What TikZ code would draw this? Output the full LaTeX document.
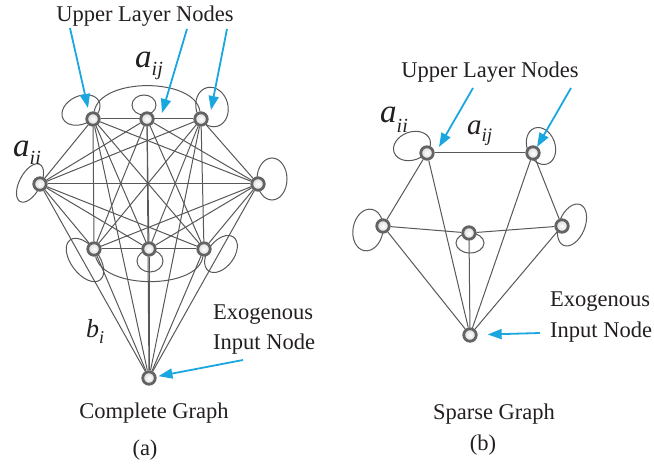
\documentclass[tikz,border=0pt]{standalone}
\usepackage{fontspec}
\setmainfont{Liberation Serif}
\usetikzlibrary{arrows.meta,backgrounds}
\definecolor{edgegray}{HTML}{585858}
\definecolor{ringgray}{HTML}{636363}
\definecolor{arrowblue}{HTML}{1AA7E0}
\definecolor{txt}{HTML}{231F20}
\begin{document}
\begin{tikzpicture}[x=1pt,y=-1pt,
  vert/.style={circle, draw=ringgray, line width=2.8pt, minimum size=12.5pt, inner sep=0pt, inner color=white, outer color=gray!30},
  edge/.style={draw=edgegray, line width=1pt},
  loopst/.style={draw=edgegray, line width=1pt},
  bluearrow/.style={draw=arrowblue, line width=1.8pt, -{Triangle[length=14pt,width=10pt]}},
  lbl/.style={font=\fontsize{22.5}{27}\selectfont, text=txt, inner sep=0pt},
  mlbl/.style={text=txt, inner sep=0pt, anchor=base west},
]
\useasboundingbox (0,0) rectangle (654,468);

% ---------- (a) complete graph ----------
\node[vert] (U1) at (93,119) {};
\node[vert] (U2) at (147,119) {};
\node[vert] (U3) at (201,119) {};
\node[vert] (L)  at (40,184) {};
\node[vert] (R)  at (258,184) {};
\node[vert] (B1) at (94,249) {};
\node[vert] (B2) at (149,249) {};
\node[vert] (B3) at (204,249) {};
\node[vert] (I)  at (149,378) {};

\begin{scope}[on background layer]
  \foreach \a [count=\i] in {U1,U2,U3,L,R,B1,B2,B3,I}{
    \foreach \b [count=\j] in {U1,U2,U3,L,R,B1,B2,B3,I}{
      \ifnum\j>\i \draw[edge] (\a) -- (\b); \fi
    }
  }
  % self loops
  \draw[loopst, rotate around={25:(81,110)}] (81,110) ellipse [x radius=20pt, y radius=14pt];
  \draw[loopst] (144,105) ellipse [x radius=12pt, y radius=10pt];
  \draw[loopst, rotate around={-75:(212,107)}] (212,107) ellipse [x radius=20pt, y radius=16pt];
  \draw[loopst, rotate around={62:(30,183)}] (30,183) ellipse [x radius=21pt, y radius=10.5pt];
  \draw[loopst] (272,179) ellipse [x radius=15pt, y radius=21pt];
  \draw[loopst, rotate around={-53:(85,260)}] (85,260) ellipse [x radius=25pt, y radius=14pt];
  \draw[loopst] (150,261) ellipse [x radius=13pt, y radius=11pt];
  \draw[loopst, rotate around={53:(221,254)}] (221,254) ellipse [x radius=21pt, y radius=13pt];
  % a_ij arcs
  \draw[loopst] (U1) .. controls (100,77) and (195,77) .. (U3);
  \draw[loopst] (B1) .. controls (103,290) and (198,290) .. (B3);
\end{scope}

% labels (a)
\node[lbl, anchor=base] (ulA) at (145,22) {Upper Layer Nodes};
\node[mlbl] (aijA) at (135,68) {\fontsize{33}{33}\selectfont\itshape a\raisebox{-8pt}{\fontsize{20}{20}\selectfont ij}};
\node[mlbl] (aiiA) at (13,157) {\fontsize{33}{33}\selectfont\itshape a\raisebox{-8pt}{\fontsize{20}{20}\selectfont ii}};
\node[mlbl] (biA) at (86,337) {\fontsize{26}{26}\selectfont\itshape b\raisebox{-6pt}{\fontsize{18}{18}\selectfont i}};
\node[lbl, anchor=base west] (exA1) at (213,319) {Exogenous};
\node[lbl, anchor=base west] (exA2) at (213,349) {Input Node};
\node[lbl, anchor=base] (cgA) at (154,418) {Complete Graph};
\node[lbl, anchor=base] (capA) at (145,455) {(a)};

\coordinate (tA1) at (70,28);  \coordinate (hA1) at (88,108);
\coordinate (tA2) at (187,29); \coordinate (hA2) at (162,113);
\coordinate (tA3) at (227,29); \coordinate (hA3) at (211,110);
\coordinate (tA4) at (243,360);
\draw[bluearrow] (tA1) -- (hA1);
\draw[bluearrow] (tA2) -- (hA2);
\draw[bluearrow] (tA3) -- (hA3);
\draw[bluearrow, shorten >=2pt] (tA4) -- (I);

% ---------- (b) sparse graph ----------
\node[vert] (V1) at (427,153) {};
\node[vert] (V2) at (533,153) {};
\node[vert] (VL) at (383,226) {};
\node[vert] (VM) at (469,233) {};
\node[vert] (VR) at (562,226) {};
\node[vert] (VI) at (470,335) {};

\begin{scope}[on background layer]
  \foreach \a/\b in {V1/V2, V1/VL, V1/VI, V2/VR, V2/VI, VL/VM, VM/VR, VL/VI, VM/VI, VR/VI}
    \draw[edge] (\a) -- (\b);
  \draw[loopst, rotate around={20:(412,146)}] (412,146) ellipse [x radius=19pt, y radius=14pt];
  \draw[loopst, rotate around={-70:(541,146)}] (541,146) ellipse [x radius=19pt, y radius=14pt];
  \draw[loopst, rotate around={80:(368,230)}] (368,230) ellipse [x radius=21pt, y radius=15pt];
  \draw[loopst, rotate around={68:(572,225)}] (572,225) ellipse [x radius=22pt, y radius=13pt];
  \draw[loopst] (470,243) ellipse [x radius=14pt, y radius=10pt];
\end{scope}

\node[lbl, anchor=base] (ulB) at (490,78) {Upper Layer Nodes};
\node[mlbl] (aiiB) at (380,123) {\fontsize{33}{33}\selectfont\itshape a\raisebox{-10pt}{\fontsize{20}{20}\selectfont ii}};
\node[mlbl] (aijB) at (467,135) {\fontsize{29}{29}\selectfont\itshape a\raisebox{-7pt}{\fontsize{19}{19}\selectfont ij}};
\node[lbl, anchor=base west] (exB1) at (550,306) {Exogenous};
\node[lbl, anchor=base west] (exB2) at (550,337) {Input Node};
\node[lbl, anchor=base] (sgB) at (494,419) {Sparse Graph};
\node[lbl, anchor=base] (capB) at (483,450) {(b)};

\coordinate (tB1) at (473,88);  \coordinate (hB1) at (439,147);
\coordinate (tB2) at (571,88);  \coordinate (hB2) at (537,147);
\coordinate (tB3) at (540,333);
\draw[bluearrow] (tB1) -- (hB1);
\draw[bluearrow] (tB2) -- (hB2);
\draw[bluearrow, shorten >=10pt] (tB3) -- (VI);
\end{tikzpicture}
\end{document}
